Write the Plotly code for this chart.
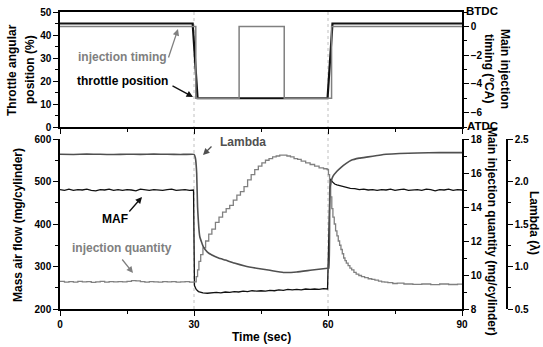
import plotly.graph_objects as go

# ---------------- data ----------------
# Top panel
thr_t = [0, 29.7, 30.8, 59.9, 61.0, 90]
thr_v = [45, 45, 12.5, 12.5, 45, 45]

tim_t = [0, 30.4, 30.4, 40.1, 40.1, 50.2, 50.2, 60.8, 60.8, 90]
tim_v = [0, 0, -5, -5, 0, 0, -5, -5, 0, 0]

# Bottom panel: MAF (mg/cylinder)
maf_t = [0, 1, 2, 3, 4, 5, 6, 7, 8, 9, 10, 11, 12, 13, 14, 15, 16, 17, 18, 19, 20, 21, 22, 23, 24, 25, 26, 27, 28, 29, 29.9,
         30.1, 30.5, 31.0, 31.5, 32, 33, 34, 35, 36, 37, 38, 39, 40, 41, 42, 43, 44, 45, 46, 47, 48, 49, 50, 51, 52, 53, 54, 55,
         56, 57, 58, 59, 59.9, 60.2, 60.5, 61, 61.5, 62, 63, 64, 65, 66, 67, 68, 69, 70, 71, 72, 73, 74, 75, 76, 77, 78, 79, 80,
         81, 82, 83, 84, 85, 86, 87, 88, 89, 90]
maf_v = [481, 479, 482, 479, 481, 480, 482, 479, 478, 481, 480, 482, 479, 481, 479, 481, 480, 478, 482, 481, 479, 481, 480, 479, 481, 482, 479, 480, 481, 479, 480,
         255, 246, 241, 239, 238, 237, 238, 239, 238, 240, 239, 241, 240, 242, 241, 243, 242, 243, 242, 244, 243, 245, 244, 246, 245, 246, 245, 247,
         246, 247, 246, 248, 247, 420, 506, 499, 494, 492, 489, 486, 484, 483, 481, 482, 480, 481, 479, 481, 480, 482, 479, 481, 482, 479, 480, 481,
         479, 482, 481, 478, 481, 480, 482, 479, 481, 480]

# Bottom panel: injection quantity (mg/cylinder)
inj_t = [0, 1, 2, 3, 4, 5, 6, 7, 8, 9, 10, 11, 12, 13, 14, 15, 16, 17, 18, 19, 20, 21, 22, 23, 24, 25, 26, 27, 28, 29, 30.0,
         30.5, 30.8, 31.1, 31.5, 32.0, 32.6, 33.3, 34.0, 34.8, 35.6, 36.4, 37.2, 38.0, 38.8, 39.6, 40.4, 41.2, 42.0, 42.8, 43.6,
         44.4, 45.2, 46.0, 46.8, 47.6, 48.4, 49.2, 50.0, 50.8, 51.6, 52.4, 53.2, 54.0, 55.0, 56.0, 57.0, 58.0, 59.0, 59.8,
         60.1, 60.35, 60.6, 60.85, 61.1, 61.4, 61.7, 62.0, 62.3, 62.6, 62.9, 63.2, 63.5, 63.8, 64.1, 64.5, 64.9, 65.3, 65.8,
         66.3, 66.9, 67.5, 68.2, 69.0, 69.8, 70.5, 71.3, 72.0, 72.7, 73.4, 74.5, 75.5, 77, 79, 81, 83, 85, 87, 89, 90]
inj_v = [9.62, 9.58, 9.61, 9.58, 9.62, 9.59, 9.61, 9.57, 9.6, 9.62, 9.58, 9.61, 9.59, 9.61, 9.6, 9.63, 9.67, 9.65, 9.61, 9.58, 9.61, 9.6, 9.58, 9.61, 9.59, 9.61, 9.58, 9.6, 9.61, 9.58, 9.6,
         9.9, 10.3, 10.8, 11.2, 11.6, 12.0, 12.4, 12.7, 13.1, 13.4, 13.7, 13.9, 14.1, 14.4, 14.7, 14.9, 15.2, 15.6, 15.9, 16.2,
         16.4, 16.6, 16.75, 16.85, 16.95, 17.0, 17.05, 17.05, 17.0, 16.95, 16.85, 16.8, 16.7, 16.6, 16.5, 16.4, 16.3, 16.25, 16.2,
         15.9, 15.4, 14.6, 13.9, 13.4, 13.0, 12.6, 12.3, 12.0, 11.75, 11.5, 11.25, 11.0, 10.85, 10.7, 10.55, 10.4, 10.3, 10.15,
         10.05, 9.97, 9.9, 9.85, 9.78, 9.74, 9.7, 9.64, 9.6, 9.58, 9.55, 9.5, 9.52, 9.47, 9.45, 9.47, 9.43, 9.47, 9.44, 9.46, 9.45]

# Bottom panel: Lambda
lam_t = [0, 3, 6, 9, 12, 15, 18, 21, 24, 27, 30.0, 30.3, 30.6, 30.8, 31.3, 32.1, 33, 34, 35.5, 37, 39, 41.4, 44, 47, 50, 53, 56, 59.9,
         60.2, 60.4, 60.7, 61.1, 62, 63, 64, 65.2, 67, 69, 71, 73, 76, 80, 85, 90]
lam_v = [2.32, 2.318, 2.322, 2.32, 2.317, 2.321, 2.319, 2.322, 2.32, 2.318, 2.32, 2.28, 2.10, 1.70, 1.35, 1.23, 1.17, 1.135, 1.10, 1.076, 1.04, 1.006, 0.98, 0.955, 0.93, 0.935, 0.955, 0.98,
         0.98, 1.9, 2.0, 2.06, 2.12, 2.17, 2.21, 2.25, 2.275, 2.29, 2.305, 2.32, 2.33, 2.335, 2.34, 2.34]

x_ticks = [0, 30, 60, 90]

# ---------------- layout helpers ----------------
W, H = 543, 347
ML, MR, MT, MB = 60, 36, 12, 38
PW, PH = W - ML - MR, H - MT - MB


def px(x):
    return (x - ML) / PW


def py(y):
    return (H - MB - y) / PH


XEND = px(462)
TOP_DOM = [py(127), 1.0]
BOT_DOM = [0.0, py(139)]

BLACK = "#111111"
DGRAY = "#505050"
LGRAY = "#808080"
FONT = "Liberation Sans"
tickfont = dict(family=FONT, size=10, color="black", weight="bold")

fig = go.Figure()

fig.add_trace(go.Scatter(x=thr_t, y=thr_v, xaxis="x2", yaxis="y", mode="lines",
                         line=dict(color=BLACK, width=2.2), showlegend=False))
fig.add_trace(go.Scatter(x=tim_t, y=tim_v, xaxis="x2", yaxis="y2", mode="lines",
                         line=dict(color=LGRAY, width=1.5), showlegend=False))

fig.add_trace(go.Scatter(x=maf_t, y=maf_v, xaxis="x", yaxis="y3", mode="lines",
                         line=dict(color=BLACK, width=1.3), showlegend=False))
fig.add_trace(go.Scatter(x=inj_t, y=inj_v, xaxis="x", yaxis="y4", mode="lines",
                         line=dict(color=LGRAY, width=1.3, shape="hv"), showlegend=False))
fig.add_trace(go.Scatter(x=lam_t, y=lam_v, xaxis="x", yaxis="y5", mode="lines",
                         line=dict(color=DGRAY, width=1.6, shape="spline", smoothing=0.3), showlegend=False))

axline = dict(showline=True, linecolor="black", linewidth=1.5, showgrid=False, zeroline=False,
              ticks="outside", ticklen=5, tickwidth=1.3, tickcolor="black", tickfont=tickfont)
minor_kw = dict(ticklen=3, ticks="outside", tickcolor="black", tickwidth=1.2)

fig.update_layout(
    width=W, height=H,
    margin=dict(l=ML, r=MR, t=MT, b=MB, autoexpand=False),
    paper_bgcolor="white", plot_bgcolor="white",
    xaxis=dict(domain=[0, XEND], anchor="y3", range=[0, 90], tickvals=x_ticks,
               minor=dict(dtick=15, **minor_kw), **axline),
    xaxis2=dict(domain=[0, XEND], anchor="y", range=[0, 90], tickvals=x_ticks, showticklabels=False,
                mirror=True, minor=dict(dtick=15, **minor_kw), **axline),
    yaxis=dict(domain=TOP_DOM, anchor="x2", range=[0, 50], dtick=10,
               minor=dict(dtick=5, **minor_kw), **axline),
    yaxis2=dict(domain=TOP_DOM, anchor="x2", overlaying="y", side="right", range=[-7, 1],
                tickvals=[0, -2, -4, -6], ticklabelstandoff=0,
                minor=dict(tickvals=[1, -1, -3, -5, -7], **minor_kw), **axline),
    yaxis3=dict(domain=BOT_DOM, anchor="x", range=[200, 600], dtick=100,
                minor=dict(dtick=50, **minor_kw), **axline),
    yaxis4=dict(domain=BOT_DOM, anchor="x", overlaying="y3", side="right", range=[8, 18], dtick=2,
                minor=dict(dtick=1, **minor_kw), **axline),
    yaxis5=dict(domain=BOT_DOM, anchor="free", overlaying="y3", side="right", position=px(507),
                range=[0.5, 2.5], dtick=0.5, tickformat=".1f",
                minor=dict(dtick=0.25, **minor_kw), **axline),
)

# dotted vertical guides
for xv in [30, 60]:
    fig.add_shape(type="line", xref="x", yref="paper", x0=xv, x1=xv, y0=0, y1=1,
                  line=dict(color="#c0c0c0", width=1, dash="dot"), layer="below")

ann = []


def text(s, x, y, size=12, color="black", angle=0):
    ann.append(dict(text=s, x=px(x), y=py(y), xref="paper", yref="paper", showarrow=False,
                    textangle=angle, xanchor="center", yanchor="middle",
                    font=dict(family=FONT, size=size, color=color, weight="bold")))


def arrow(hx, hy, tx, ty, color):
    ann.append(dict(text="", x=px(hx), y=py(hy), xref="paper", yref="paper", showarrow=True,
                    ax=tx - hx, ay=ty - hy, arrowhead=2, arrowsize=1, arrowwidth=1.3,
                    arrowcolor=color, standoff=0, startstandoff=0))


# axis titles
text("Throttle angular", 12, 70, angle=-90)
text("position (%)", 30, 70, angle=-90)
text("Mass air flow (mg/cylinder)", 18, 225, angle=-90)
text("Main injection", 505, 69, angle=90)
text("timing (°CA)", 489, 68, angle=90)
text("Main injection quantity (mg/cylinder)", 492, 231, angle=90)
text("Lambda (λ)", 534, 223, angle=90)
text("BTDC", 482, 11, size=11.5)
text("ATDC", 482, 126, size=11.5)
text("Time (sec)", 261, 337)

# in-plot labels
text("injection timing", 122, 57, color=LGRAY)
arrow(178, 29, 168, 59, LGRAY)
text("throttle position", 122, 81)
arrow(193, 97, 171, 85, BLACK)
text("Lambda", 243, 142, color=DGRAY)
arrow(203, 155, 213, 145, DGRAY)
text("MAF", 115, 219)
arrow(142, 197, 128, 213, BLACK)
text("injection quantity", 122, 248, color=LGRAY)
arrow(133, 273, 121, 258, LGRAY)

fig.update_layout(annotations=ann)

fig.write_html("out.html")
